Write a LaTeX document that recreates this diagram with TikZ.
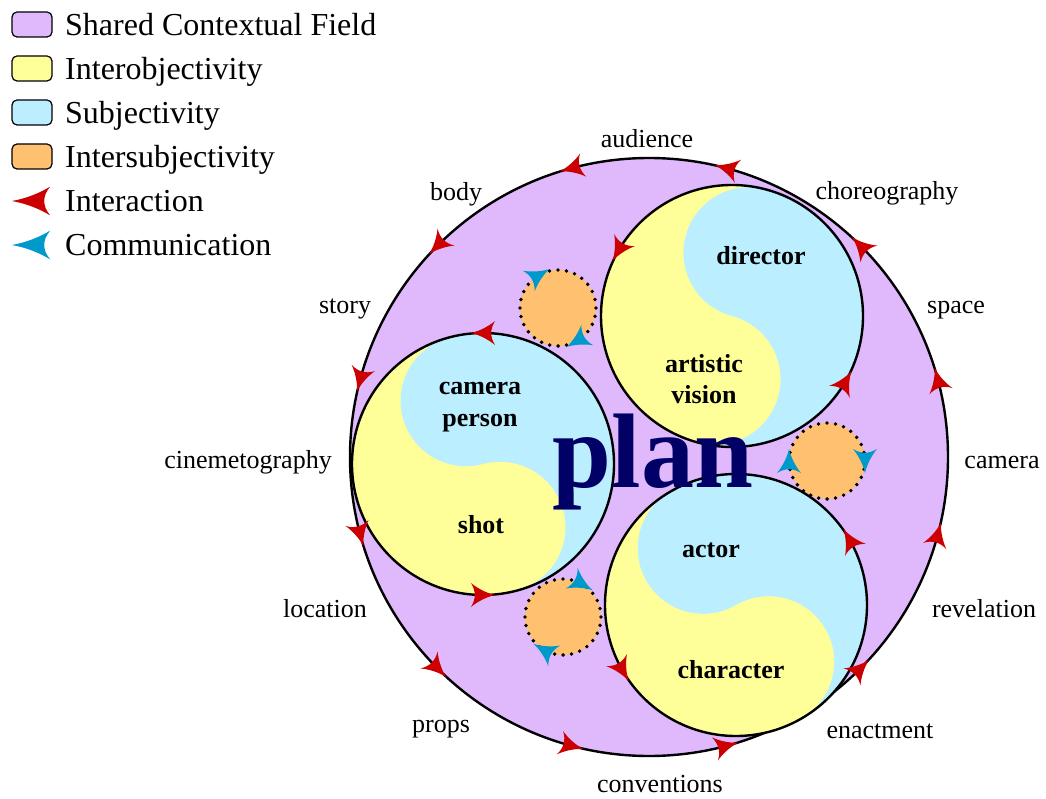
\documentclass[tikz,border=0pt]{standalone}
\usepackage{fontspec}
\setmainfont{Liberation Serif}
\usetikzlibrary{calc}
\definecolor{cpur}{HTML}{E0B8FC}
\definecolor{cyel}{HTML}{FFFF99}
\definecolor{cblu}{HTML}{BBEEFF}
\definecolor{cora}{HTML}{FFC170}
\definecolor{cred}{HTML}{CC0000}
\definecolor{ccya}{HTML}{0099CC}
\definecolor{cnav}{HTML}{000066}
\tikzset{
  harrow/.pic={\fill (12,0) .. controls (3,2) and (-6,7) .. (-12,12) .. controls (-7,4) and (-7,-4) .. (-12,-12) .. controls (-6,-7) and (3,-2) .. (12,0) -- cycle;},
  ring/.style={line width=2.4pt},
  dotring/.style={line width=3.8pt, line cap=round, dash pattern=on 0pt off 8.53pt},
  lbl/.style={font=\fontsize{26}{30}\selectfont, anchor=base, inner sep=0pt},
  blbl/.style={font=\bfseries\fontsize{26}{32}\selectfont, anchor=base, inner sep=0pt},
  leg/.style={font=\fontsize{32}{38}\selectfont, anchor=base west, inner sep=0pt},
  legbox/.style={draw, line width=1.2pt, rounded corners=5pt, minimum width=40pt, minimum height=25pt, inner sep=0pt},
}
\newcommand{\YYdraw}[3]{%
  \fill[cyel] (#1) circle[radius=#2];
  \fill[cblu] ($(#1)+(#3:#2)$) arc[start angle=#3, end angle=#3-180, radius=#2]
     arc[start angle=#3-180, end angle=#3, radius=#2/2]
     arc[start angle=#3-180, end angle=#3-360, radius=#2/2] -- cycle;
  \draw[ring] (#1) circle[radius=#2];
}
\begin{document}
\begin{tikzpicture}[x=1pt,y=1pt]
\useasboundingbox (0,0) rectangle (1046,-799);
% centres
\coordinate (field) at (649,-457);
\coordinate (dir) at (732,-316);
\coordinate (cam) at (483,-464);
\coordinate (act) at (736,-605);
\coordinate (o1) at (558,-308);
\coordinate (o2) at (827,-461);
\coordinate (o3) at (563,-617);
% shared field
\fill[cpur] (field) circle[radius=299];
\draw[ring] (field) circle[radius=299];
% intersubjectivity circles
\foreach \c in {o1,o2,o3}{
  \fill[cora] (\c) circle[radius=38];
  \draw[dotring] (\c) circle[radius=38];
}
% yin-yang circles
\YYdraw{dir}{131}{75}
\YYdraw{cam}{131}{105}
\YYdraw{act}{131}{120}
% interaction arrows
\foreach \a in {15,45,...,345}{
  \pic[color=cred, rotate=\a+90] at ($(field)+(\a:299)$) {harrow};
}
\foreach \c/\a in {dir/150,dir/330,cam/90,cam/270,act/30,act/210}{
  \pic[color=cred, rotate=\a+90] at ($(\c)+(\a:131)$) {harrow};
}
% communication arrows
\foreach \c/\a in {o1/120,o1/300,o2/0,o2/180,o3/60,o3/240}{
  \pic[color=ccya, rotate=\a-90] at ($(\c)+(\a:38)$) {harrow};
}
% centre word
\node[anchor=base, inner sep=0pt, text height=74pt, text depth=22pt, text=cnav, font=\bfseries\fontsize{106}{110}\selectfont] (plan) at (653,-487) {plan};
% inner labels
\node[blbl] (director) at (761,-265) {director};
\node[blbl] (artistic) at (704,-372) {artistic};
\node[blbl] (vision) at (704,-403) {vision};
\node[blbl] (camper) at (480,-394) {camera};
\node[blbl] (person) at (480,-426) {person};
\node[blbl] (shot) at (481,-533) {shot};
\node[blbl] (actor) at (711,-557) {actor};
\node[blbl] (character) at (731,-678) {character};
% outer labels
\node[lbl] (audience) at (647,-148) {audience};
\node[lbl] (body) at (456,-201) {body};
\node[lbl] (choreo) at (887,-200) {choreography};
\node[lbl] (story) at (345,-314) {story};
\node[lbl] (space) at (956,-314) {space};
\node[lbl] (cine) at (248,-468) {cinemetography};
\node[lbl] (camera) at (1002,-468) {camera};
\node[lbl] (location) at (325,-617) {location};
\node[lbl] (revelation) at (984,-617) {revelation};
\node[lbl] (props) at (441,-732) {props};
\node[lbl] (enact) at (880,-738) {enactment};
\node[lbl] (conv) at (660,-792) {conventions};
% legend
\node[legbox, fill=cpur] (k1) at (32,-24.5) {};
\node[legbox, fill=cyel] (k2) at (32,-68.5) {};
\node[legbox, fill=cblu] (k3) at (32,-112.5) {};
\node[legbox, fill=cora] (k4) at (32,-156.5) {};
\pic[color=cred, rotate=180, xscale=1.6, yscale=1.2] at (31,-201) {harrow};
\pic[color=ccya, rotate=180, xscale=1.6, yscale=1.2] at (31,-245) {harrow};
\node[leg] (t1) at (65,-36) {Shared Contextual Field};
\node[leg] (t2) at (65,-80) {Interobjectivity};
\node[leg] (t3) at (65,-124) {Subjectivity};
\node[leg] (t4) at (65,-168) {Intersubjectivity};
\node[leg] (t5) at (65,-212) {Interaction};
\node[leg] (t6) at (65,-256) {Communication};
\end{tikzpicture}
\end{document}
